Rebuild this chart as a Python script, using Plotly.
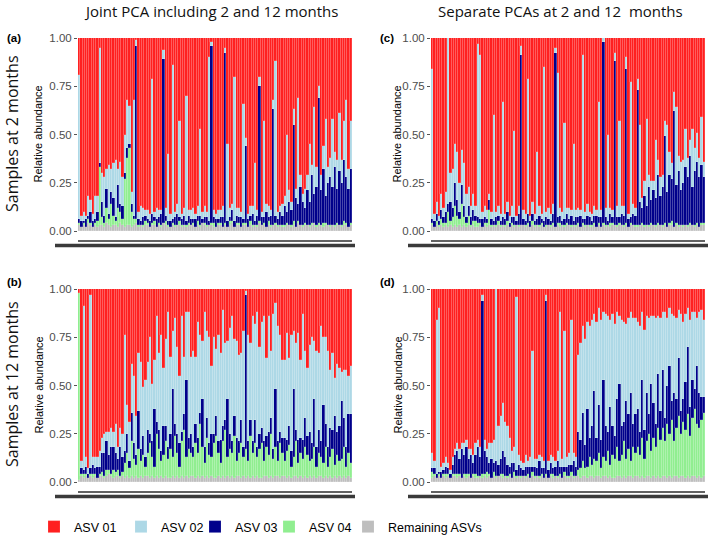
import plotly.graph_objects as go

W, H = 709, 537

# one bar per sample along each panel
samples = list(range(1, 121))

# relative abundances in percent
# ASV 01 (red) is whatever is left up to 100 %

# (a) 2 months, joint PCA
rem_a = [3, 2, 3, 2, 4, 3, 2, 3, 2, 3, 3, 2, 4, 3, 2, 3, 3, 2, 4, 3,
         2, 3, 3, 2, 3, 4, 2, 3, 2, 3, 3, 2, 3, 3, 2, 3, 2, 4, 3, 2,
         2, 3, 2, 3, 3, 2, 3, 2, 3, 3, 3, 2, 3, 2, 4, 3, 2, 3, 3, 2,
         2, 3, 3, 2, 3, 2, 3, 4, 2, 3, 3, 2, 3, 3, 2, 3, 2, 3, 2, 4,
         3, 3, 2, 3, 2, 3, 3, 2, 3, 2, 2, 3, 3, 2, 3, 2, 4, 3, 2, 3,
         3, 2, 3, 4, 2, 3, 3, 2, 3, 3, 2, 3, 2, 3, 3, 2, 3, 3, 2, 3]
asv04_a = [1, 0, 1, 0, 2, 1, 0, 1, 3, 30, 4, 2, 8, 3, 12, 5, 2, 10, 6, 3,
           25, 35, 40, 8, 3, 2, 1, 0, 1, 2, 1, 0, 1, 2, 0, 1, 1, 0, 2, 1,
           0, 1, 1, 0, 2, 1, 0, 1, 1, 0, 1, 0, 2, 1, 0, 1, 1, 0, 1, 2,
           0, 1, 1, 0, 1, 0, 2, 1, 0, 1, 1, 0, 1, 1, 0, 2, 1, 0, 1, 1,
           0, 1, 0, 2, 1, 0, 1, 1, 0, 1, 1, 1, 0, 1, 2, 0, 1, 0, 1, 1,
           0, 1, 1, 0, 1, 1, 0, 2, 1, 0, 1, 0, 1, 1, 0, 1, 2, 1, 0, 1]
asv03_a = [2, 3, 1, 4, 2, 6, 3, 2, 5, 2, 8, 4, 10, 3, 6, 9, 2, 12, 4, 7,
           3, 5, 2, 4, 2, 90, 3, 2, 4, 3, 2, 3, 5, 2, 4, 3, 6, 85, 3, 2,
           3, 2, 4, 6, 2, 3, 5, 2, 4, 3, 2, 4, 3, 5, 2, 3, 4, 2, 92, 3,
           4, 2, 3, 5, 88, 3, 2, 6, 3, 4, 3, 5, 2, 40, 4, 3, 6, 2, 5, 70,
           4, 3, 8, 2, 5, 60, 4, 3, 7, 5, 10, 6, 12, 8, 50, 15, 9, 20, 12, 8,
           18, 12, 25, 15, 20, 65, 18, 28, 14, 22, 25, 20, 30, 18, 28, 22, 32, 24, 20, 28]
asv02_a = [75, 3, 5, 2, 10, 6, 4, 12, 8, 60, 15, 20, 10, 25, 12, 18, 30, 8, 22, 15,
           20, 25, 20, 6, 60, 3, 4, 8, 5, 3, 5, 4, 70, 3, 6, 4, 2, 5, 4, 35,
           4, 80, 3, 5, 50, 3, 4, 65, 3, 5, 6, 3, 5, 45, 4, 6, 3, 85, 2, 4,
           3, 5, 4, 6, 3, 40, 5, 3, 75, 4, 5, 3, 60, 4, 3, 5, 4, 30, 3, 5,
           3, 50, 4, 6, 3, 5, 80, 4, 3, 6, 5, 40, 6, 4, 8, 5, 55, 6, 4, 10,
           8, 30, 5, 45, 10, 6, 8, 12, 40, 8, 10, 35, 8, 15, 30, 12, 20, 40, 10, 25]

# (b) 12 months, joint PCA
rem_b = [1, 3, 2, 3, 2, 3, 2, 3, 2, 3, 3, 2, 3, 4, 3, 2, 3, 3, 2, 3,
         2, 3, 2, 3, 2, 3, 2, 3, 2, 3, 3, 2, 3, 2, 3, 2, 3, 2, 3, 2,
         2, 3, 2, 3, 2, 3, 2, 3, 2, 3, 3, 2, 3, 2, 3, 2, 3, 2, 3, 2,
         2, 3, 2, 3, 2, 3, 2, 3, 2, 3, 3, 2, 3, 2, 3, 2, 3, 2, 3, 2,
         2, 3, 3, 2, 3, 2, 3, 3, 2, 3, 3, 2, 3, 2, 3, 3, 2, 3, 2, 3,
         2, 3, 2, 3, 2, 3, 3, 2, 3, 2, 3, 2, 3, 2, 3, 2, 3, 2, 3, 2]
asv04_b = [97, 1, 2, 1, 0, 1, 2, 1, 0, 1, 2, 1, 3, 2, 1, 4, 2, 3, 1, 2,
           8, 12, 5, 18, 10, 6, 15, 8, 12, 5, 12, 18, 10, 6, 22, 15, 8, 12, 18, 10,
           15, 10, 22, 12, 6, 18, 25, 10, 15, 12, 10, 18, 12, 28, 15, 8, 20, 12, 10, 18,
           22, 12, 8, 18, 25, 10, 15, 12, 22, 8, 12, 18, 10, 15, 8, 22, 12, 18, 10, 15,
           18, 8, 15, 12, 22, 10, 15, 8, 18, 12, 8, 14, 16, 6, 10, 18, 8, 12, 10, 15,
           12, 8, 10, 15, 6, 12, 10, 8, 15, 6, 10, 15, 6, 12, 8, 10, 15, 6, 12, 8]
asv03_b = [0, 3, 2, 4, 2, 3, 5, 3, 6, 4, 10, 12, 15, 8, 14, 12, 10, 6, 15, 8,
           6, 10, 4, 15, 8, 5, 20, 6, 10, 5, 12, 5, 8, 30, 6, 10, 5, 15, 8, 6,
           8, 35, 6, 10, 12, 5, 8, 40, 6, 10, 5, 10, 8, 6, 25, 8, 10, 6, 12, 5,
           10, 6, 12, 8, 5, 30, 8, 6, 10, 12, 6, 12, 5, 80, 10, 8, 6, 12, 5, 8,
           8, 10, 6, 12, 8, 5, 30, 10, 6, 8, 12, 6, 10, 8, 35, 6, 12, 8, 10, 15,
           10, 15, 8, 25, 10, 12, 8, 30, 12, 10, 15, 10, 25, 12, 18, 30, 15, 10, 20, 25]
asv02_b = [0, 4, 85, 5, 3, 90, 4, 6, 5, 8, 8, 10, 5, 12, 10, 8, 15, 6, 10, 12,
           60, 15, 20, 25, 35, 20, 30, 45, 25, 40, 35, 50, 30, 25, 55, 40, 60, 30, 45, 70,
           40, 30, 55, 45, 35, 60, 30, 35, 65, 40, 50, 35, 60, 40, 30, 70, 45, 55, 35, 50,
           35, 55, 45, 60, 40, 30, 55, 65, 40, 50, 45, 35, 60, 2, 55, 40, 65, 50, 70, 45,
           55, 65, 40, 60, 35, 70, 45, 60, 50, 40, 40, 55, 35, 60, 30, 45, 55, 40, 65, 35,
           35, 45, 55, 30, 50, 40, 60, 35, 45, 50, 30, 40, 20, 35, 30, 15, 25, 40, 20, 25]

# (c) 2 months, separate PCAs
rem_c = [3, 2, 3, 2, 3, 2, 3, 2, 3, 2, 3, 2, 3, 2, 3, 2, 3, 2, 3, 2,
         2, 3, 2, 3, 2, 3, 2, 3, 2, 3, 2, 3, 2, 3, 2, 3, 2, 3, 2, 3,
         3, 2, 3, 2, 3, 2, 3, 2, 3, 2, 2, 3, 2, 3, 2, 3, 2, 3, 2, 3,
         3, 2, 3, 2, 3, 2, 3, 2, 3, 2, 2, 3, 2, 3, 2, 3, 2, 3, 2, 3,
         3, 2, 3, 3, 2, 3, 2, 3, 3, 2, 2, 3, 3, 2, 3, 2, 3, 3, 2, 3,
         3, 2, 3, 2, 3, 3, 2, 3, 2, 3, 2, 3, 2, 3, 3, 2, 3, 2, 3, 3]
asv04_c = [1, 0, 2, 1, 3, 2, 1, 8, 2, 5, 10, 6, 3, 12, 4, 2, 5, 1, 2, 3,
           2, 1, 0, 1, 2, 8, 1, 0, 1, 2, 1, 0, 1, 2, 0, 1, 1, 0, 1, 0,
           0, 1, 1, 0, 2, 1, 0, 1, 1, 0, 1, 0, 1, 1, 0, 1, 2, 0, 1, 1,
           0, 1, 0, 1, 1, 0, 1, 1, 0, 1, 1, 1, 0, 1, 0, 1, 1, 0, 2, 1,
           0, 1, 1, 0, 1, 1, 0, 1, 0, 1, 1, 0, 1, 1, 0, 1, 1, 0, 1, 1,
           0, 1, 1, 0, 1, 2, 0, 1, 1, 0, 1, 0, 1, 1, 0, 1, 1, 0, 1, 1]
asv03_c = [2, 3, 4, 2, 5, 3, 6, 4, 10, 5, 12, 8, 4, 10, 6, 3, 5, 4, 6, 3,
           3, 2, 4, 3, 2, 5, 3, 2, 4, 3, 2, 4, 3, 5, 2, 3, 4, 2, 6, 88,
           3, 2, 5, 3, 4, 2, 3, 5, 2, 3, 4, 3, 2, 5, 90, 3, 4, 2, 3, 5,
           3, 5, 2, 4, 3, 6, 2, 3, 5, 4, 2, 4, 6, 3, 5, 94, 4, 2, 5, 3,
           85, 4, 3, 6, 5, 80, 4, 3, 6, 5, 70, 12, 8, 15, 10, 20, 12, 18, 14, 25,
           15, 20, 45, 18, 25, 22, 60, 20, 28, 18, 22, 30, 25, 35, 20, 28, 32, 26, 30, 24]
asv02_c = [78, 4, 6, 3, 8, 5, 10, 90, 15, 20, 20, 25, 15, 18, 22, 12, 10, 6, 8, 5,
           90, 85, 4, 6, 5, 3, 4, 55, 3, 5, 4, 60, 3, 5, 4, 6, 45, 3, 4, 5,
           5, 4, 70, 3, 6, 4, 35, 5, 3, 80, 3, 6, 4, 5, 3, 75, 4, 5, 50, 3,
           6, 3, 40, 4, 5, 3, 85, 4, 6, 3, 4, 5, 3, 60, 4, 3, 5, 45, 3, 4,
           4, 6, 50, 4, 5, 6, 3, 70, 5, 4, 6, 40, 5, 8, 45, 6, 10, 5, 30, 8,
           10, 6, 8, 35, 12, 8, 10, 40, 8, 15, 12, 20, 10, 8, 30, 12, 15, 10, 25, 8]

# (d) 12 months, separate PCAs
rem_d = [2, 3, 2, 3, 2, 3, 2, 3, 2, 3, 3, 2, 3, 2, 3, 2, 3, 2, 3, 2,
         2, 3, 2, 3, 2, 3, 2, 3, 2, 3, 3, 2, 3, 2, 3, 2, 3, 2, 3, 2,
         3, 2, 3, 2, 3, 2, 3, 2, 3, 2, 3, 2, 3, 2, 3, 2, 3, 2, 3, 2,
         2, 3, 2, 3, 3, 2, 3, 3, 2, 3, 3, 2, 3, 3, 2, 3, 3, 2, 3, 2,
         2, 3, 3, 2, 3, 2, 3, 3, 2, 3, 3, 2, 3, 2, 3, 3, 2, 3, 2, 3,
         2, 3, 3, 2, 3, 2, 3, 3, 2, 3, 3, 2, 3, 2, 3, 3, 2, 3, 2, 3]
asv04_d = [3, 1, 0, 1, 0, 1, 2, 1, 0, 1, 1, 2, 1, 0, 1, 2, 1, 0, 1, 2,
           1, 0, 2, 1, 3, 1, 0, 2, 1, 0, 1, 2, 0, 1, 1, 0, 2, 1, 0, 1,
           0, 1, 1, 0, 2, 1, 0, 1, 1, 0, 1, 0, 1, 2, 0, 1, 1, 0, 2, 1,
           1, 2, 1, 0, 3, 5, 8, 4, 6, 10, 6, 10, 8, 12, 5, 10, 8, 14, 6, 12,
           10, 15, 8, 12, 18, 10, 14, 8, 16, 12, 15, 12, 20, 10, 18, 22, 14, 20, 16, 25,
           20, 25, 18, 28, 22, 30, 18, 25, 32, 22, 28, 25, 32, 22, 30, 35, 28, 25, 30, 33]
asv03_d = [2, 3, 2, 1, 3, 2, 4, 3, 2, 5, 10, 12, 8, 15, 10, 14, 8, 12, 6, 10,
           15, 10, 90, 12, 8, 6, 10, 5, 8, 6, 8, 12, 10, 6, 4, 8, 5, 3, 6, 4,
           3, 5, 4, 6, 3, 5, 4, 8, 3, 5, 90, 4, 6, 3, 5, 8, 4, 6, 3, 5,
           6, 4, 8, 5, 20, 15, 25, 12, 30, 10, 20, 35, 12, 25, 15, 40, 18, 10, 30, 15,
           12, 25, 40, 15, 10, 30, 18, 35, 12, 20, 20, 12, 30, 15, 25, 10, 35, 18, 12, 28,
           15, 30, 12, 20, 35, 10, 25, 15, 30, 12, 12, 25, 35, 15, 20, 10, 30, 18, 12, 8]
asv02_d = [8, 4, 80, 85, 3, 4, 5, 3, 2, 4, 3, 4, 5, 3, 6, 4, 5, 3, 4, 6,
           4, 5, 3, 6, 4, 10, 8, 12, 92, 20, 22, 25, 18, 20, 15, 6, 8, 90, 5, 4,
           4, 6, 3, 5, 60, 4, 5, 3, 6, 4, 3, 5, 4, 6, 3, 5, 80, 4, 70, 5,
           6, 75, 4, 5, 40, 50, 45, 55, 45, 58, 55, 40, 60, 50, 62, 35, 58, 60, 45, 58,
           58, 45, 35, 55, 52, 40, 50, 42, 55, 50, 45, 55, 35, 52, 40, 50, 35, 45, 55, 30,
           48, 30, 55, 35, 30, 45, 40, 42, 25, 50, 40, 35, 20, 45, 35, 40, 25, 42, 45, 40]

ytick_vals = [0, 0.25, 0.5, 0.75, 1.0]
ytick_text = ["0.00", "0.25", "0.50", "0.75", "1.00"]

colors = {
    "ASV 01": "#FF2020",
    "ASV 02": "#ADD8E6",
    "ASV 03": "#00008B",
    "ASV 04": "#90EE90",
    "Remaining ASVs": "#BEBEBE",
}
# legend entry widths (px) so the keys sit where they do in the figure
legend_w = {"ASV 01": 42, "ASV 02": 29, "ASV 03": 29, "ASV 04": 34, "Remaining ASVs": 100}


def px(x):
    return x / W


def py(y):
    return 1 - y / H


# pixel boxes of the four panels: (left, right, top, bottom)
panels = [
    ("a", "", (78, 352, 38, 231), rem_a, asv04_a, asv03_a, asv02_a),
    ("b", "2", (78, 352, 289, 482), rem_b, asv04_b, asv03_b, asv02_b),
    ("c", "3", (431, 705, 38, 231), rem_c, asv04_c, asv03_c, asv02_c),
    ("d", "4", (431, 705, 289, 482), rem_d, asv04_d, asv03_d, asv02_d),
]

fig = go.Figure()
layout = {}
shapes = []
annotations = []

for key, sfx, box, rem, a04, a03, a02 in panels:
    x0, x1, y0, y1 = box
    a01 = [max(0, 100 - r - g - n - l) for r, g, n, l in zip(rem, a04, a03, a02)]
    stack = [("Remaining ASVs", rem), ("ASV 04", a04), ("ASV 03", a03),
             ("ASV 02", a02), ("ASV 01", a01)]
    for name, vals in stack:
        fig.add_trace(go.Bar(
            x=samples, y=[v / 100 for v in vals], name=name,
            marker=dict(color=colors[name],
                        line=dict(color="rgba(255,255,255,0.3)", width=0.5)),
            xaxis="x" + sfx, yaxis="y" + sfx,
            legendgroup=name, showlegend=(key == "a"),
            legendwidth=legend_w[name],
        ))
    layout["xaxis" + sfx] = dict(
        domain=[px(x0), px(x1)], range=[0.5, len(samples) + 0.5],
        showticklabels=False, ticks="", showgrid=False, zeroline=False,
        showline=False, anchor="y" + sfx, automargin=False)
    layout["yaxis" + sfx] = dict(
        domain=[py(y1), py(y0)], range=[0, 1],
        tickvals=ytick_vals, ticktext=ytick_text,
        ticks="outside", ticklen=3, tickcolor="#555", tickwidth=1,
        tickfont=dict(size=11.5, color="#4D4D4D", family="Liberation Sans"),
        showgrid=False, zeroline=False, showline=False, anchor="x" + sfx,
        automargin=False)

    # squashed sample labels under each panel
    shapes.append(dict(type="line", xref="paper", yref="paper",
                       x0=px(x0), x1=px(x1), y0=py(y1 + 10), y1=py(y1 + 10),
                       line=dict(color="#2E2E2E", width=1.5)))
    shapes.append(dict(type="line", xref="paper", yref="paper",
                       x0=px(x0 - 23), x1=px(x1 + 3), y0=py(y1 + 14.5), y1=py(y1 + 14.5),
                       line=dict(color="#3A3A3A", width=3.5)))

    left_col = sfx in ("", "2")
    annotations.append(dict(text="<b>(%s)</b>" % key, xref="paper", yref="paper",
                            x=px(14 if left_col else 387),
                            y=py(38 if key in "ac" else 282),
                            xanchor="center", yanchor="middle", showarrow=False,
                            font=dict(size=11.5, color="black", family="Liberation Sans")))
    annotations.append(dict(text="Relative abundance", xref="paper", yref="paper",
                            x=px(x0 - 40 if left_col else x0 - 34),
                            y=py((y0 + y1) / 2), textangle=-90,
                            xanchor="center", yanchor="middle", showarrow=False,
                            font=dict(size=11, color="black", family="Liberation Sans")))

# column titles and row labels
annotations += [
    dict(text="Joint PCA including 2 and 12 months", x=px(211), y=py(11),
         font=dict(size=15, color="#111", family="Open Sans")),
    dict(text="Separate PCAs at 2 and 12  months", x=px(560), y=py(11),
         font=dict(size=15, color="#111", family="Open Sans")),
    dict(text="Samples at 2 months", x=px(12), y=py(134), textangle=-90,
         font=dict(size=16, color="#111", family="Open Sans")),
    dict(text="Samples at 12 months", x=px(12), y=py(384), textangle=-90,
         font=dict(size=16, color="#111", family="Open Sans")),
]
for ann in annotations[-4:]:
    ann.update(xref="paper", yref="paper", xanchor="center", yanchor="middle",
               showarrow=False)

fig.update_layout(
    width=W, height=H,
    margin=dict(l=0, r=0, t=0, b=0, autoexpand=False),
    paper_bgcolor="white", plot_bgcolor="white",
    barmode="stack", bargap=0,
    showlegend=True,
    legend=dict(orientation="h", x=px(34), y=py(527), xanchor="left", yanchor="middle",
                traceorder="reversed", itemwidth=30,
                font=dict(size=12.5, color="black", family="Liberation Sans"),
                bgcolor="rgba(0,0,0,0)"),
    shapes=shapes,
    annotations=annotations,
    **layout,
)

# the page's default body margin would push the figure 8 px off the window
fig.write_html("out.html", config={"displayModeBar": False},
               post_script="document.body.style.margin = '0';")
